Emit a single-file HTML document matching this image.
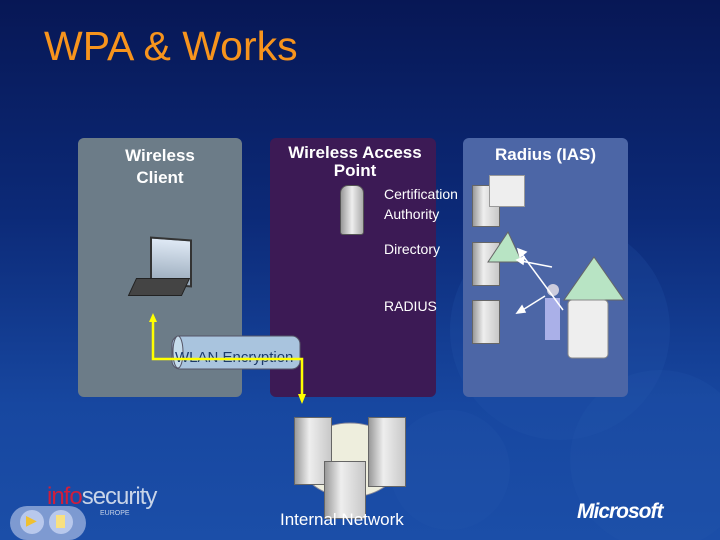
<!DOCTYPE html>
<html><head><meta charset="utf-8"><style>
body{margin:0;width:720px;height:540px;overflow:hidden;font-family:"Liberation Sans",sans-serif}
#bg{position:absolute;left:0;top:0;width:720px;height:540px;background:linear-gradient(180deg,#071755 0%,#0c2a78 40%,#1747a0 75%,#1b4ea8 100%)}
.t{position:absolute;color:#fff;white-space:nowrap}
.p{position:absolute;border-radius:6px}
.srv{position:absolute;background:linear-gradient(90deg,#9a9a9a,#eee 40%,#c8c8c8);border:1px solid #666}
</style></head><body>
<div id="bg"></div>
<svg style="position:absolute;left:0;top:0" width="720" height="540">
<circle cx="560" cy="330" r="110" fill="#2a58b0" opacity=".2"/>
<circle cx="660" cy="460" r="90" fill="#2a58b0" opacity=".2"/>
<circle cx="450" cy="470" r="60" fill="#2a58b0" opacity=".2"/>
</svg>
<div class="t" style="left:44px;top:23px;font-size:41px;color:#f7941d">WPA &amp; Works</div>
<div class="p" style="left:78px;top:138px;width:164px;height:259px;background:#6c7c88"></div>
<div class="p" style="left:270px;top:138px;width:166px;height:259px;background:#3c1a55"></div>
<div class="p" style="left:463px;top:138px;width:165px;height:259px;background:#4c66a6"></div>
<div class="t" style="left:78px;width:164px;text-align:center;top:145px;font-size:17px;line-height:22px;font-weight:bold">Wireless<br>Client</div>
<div class="t" style="left:270px;width:170px;text-align:center;top:144px;font-size:17px;line-height:18px;font-weight:bold">Wireless Access<br>Point</div>
<div class="t" style="left:463px;width:165px;text-align:center;top:145px;font-size:17px;font-weight:bold">Radius (IAS)</div>
<div class="t" style="left:384px;top:184px;font-size:14px;line-height:20px">Certification<br>Authority</div>
<div class="t" style="left:384px;top:241px;font-size:14px">Directory</div>
<div class="t" style="left:384px;top:298px;font-size:14px">RADIUS</div>
<div style="position:absolute;left:340px;top:185px;width:22px;height:48px;border-radius:8px 8px 3px 3px;background:linear-gradient(90deg,#999,#eee,#aaa);border:1px solid #555"></div>
<div style="position:absolute;left:150px;top:238px;width:38px;height:44px;background:linear-gradient(#dfe9f5,#9ab);border:2px solid #333;transform:skewY(4deg)"></div>
<div style="position:absolute;left:132px;top:278px;width:52px;height:16px;background:#444;transform:skewX(-25deg);border:1px solid #222"></div>
<div class="srv" style="left:472px;top:185px;width:26px;height:40px"></div>
<div class="srv" style="left:472px;top:242px;width:26px;height:42px"></div>
<div class="srv" style="left:472px;top:300px;width:26px;height:42px"></div>
<div style="position:absolute;left:489px;top:175px;width:34px;height:30px;background:#eee;border:1px solid #999"></div>
<svg style="position:absolute;left:0;top:0" width="720" height="540">
<polygon points="508,232 522,262 488,262" fill="#b8e4c4" stroke="#666"/>
<polygon points="594,257 624,300 564,300" fill="#b8e4c4" stroke="#666"/>
<rect x="568" y="300" width="40" height="58" fill="#eee" stroke="#888" rx="4"/>
<rect x="545" y="298" width="15" height="42" fill="#aab0e8"/>
<circle cx="553" cy="290" r="6" fill="#ccd"/>
<g stroke="#fff" stroke-width="1.5" fill="#fff">
<line x1="563" y1="310" x2="521" y2="253"/><polygon points="518,249 526,252 520,257"/>
<line x1="552" y1="267" x2="521" y2="261"/><polygon points="517,260 524,257 523,264"/>
<line x1="545" y1="296" x2="521" y2="311"/><polygon points="517,313 522,306 525,312"/>
</g>
<rect x="172" y="336" width="128" height="33" rx="8" fill="#a9c4de" stroke="#556" />
<ellipse cx="178" cy="352" rx="5" ry="16" fill="#c6dcec" stroke="#556"/>
<text x="175" y="362" font-family="Liberation Sans" font-size="15" fill="#1c3a6a">WLAN Encryption</text>
<polyline points="153,320 153,359 302,359 302,395" fill="none" stroke="#ffff00" stroke-width="2.5"/>
<polygon points="149,322 157,322 153,313" fill="#ffff00"/>
<polygon points="298,394 306,394 302,404" fill="#ffff00"/>
<ellipse cx="350" cy="460" rx="50" ry="37" fill="#eeeedd" stroke="#889"/>
</svg>
<div class="srv" style="left:294px;top:417px;width:36px;height:66px"></div>
<div class="srv" style="left:368px;top:417px;width:36px;height:68px"></div>
<div class="srv" style="left:324px;top:461px;width:40px;height:56px"></div>
<div class="t" style="left:280px;top:510px;font-size:17px">Internal Network</div>
<div class="t" style="left:47px;top:483px;font-size:24px;letter-spacing:-1px"><span style="color:#d01e3c">info</span><span style="color:#c8d4e8">security</span></div>
<div class="t" style="left:100px;top:510px;font-size:7px;color:#c8d4e8">EUROPE</div>
<div style="position:absolute;left:10px;top:506px;width:76px;height:34px;border-radius:17px;background:#8fa8d8;opacity:.85"></div>
<div style="position:absolute;left:20px;top:510px;width:24px;height:24px;border-radius:12px;background:#b8c8ec"></div>
<div style="position:absolute;left:49px;top:510px;width:24px;height:24px;border-radius:12px;background:#b8c8ec"></div>
<div class="t" style="left:26px;top:512px;font-size:14px;color:#f0c030">▶</div>
<div style="position:absolute;left:56px;top:515px;width:9px;height:13px;background:#f8e080"></div>
<div class="t" style="left:577px;top:500px;font-size:21px;font-weight:bold;font-style:italic;letter-spacing:-1px">Microsoft</div>
</body></html>
